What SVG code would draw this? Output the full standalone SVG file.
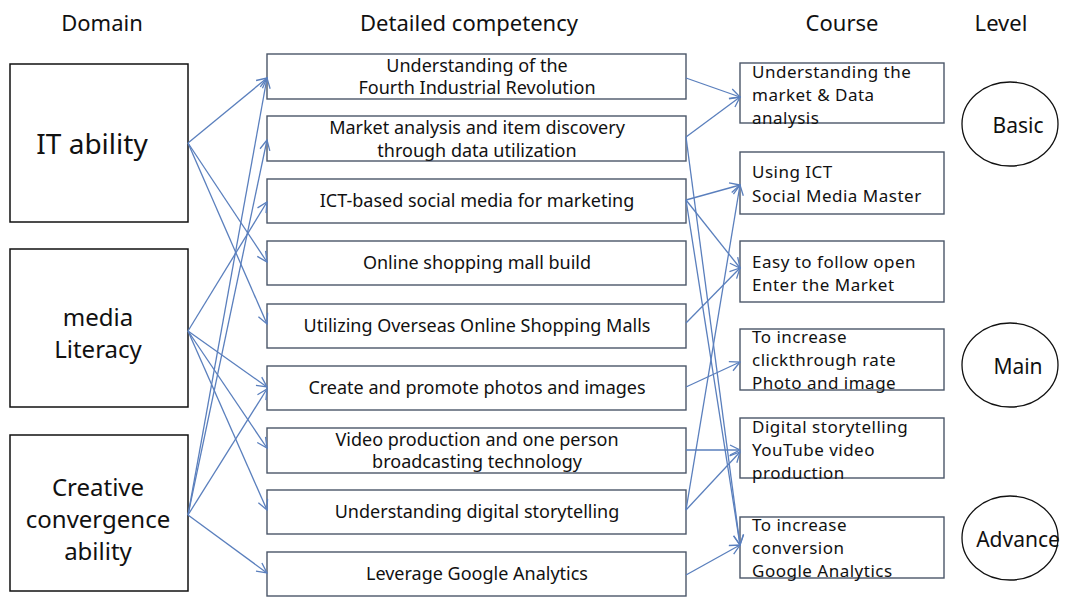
<svg xmlns="http://www.w3.org/2000/svg" width="1067" height="597" viewBox="0 0 1067 597">
<defs>
<marker id="arr" viewBox="0 0 12 12" refX="11" refY="6" markerWidth="12" markerHeight="12" markerUnits="userSpaceOnUse" orient="auto">
<path d="M1,1 L11,6 L1,11" fill="none" stroke="#5a7fbd" stroke-width="1.3"/>
</marker>
<style>
text{font-family:"Noto Sans","Open Sans","DejaVu Sans",sans-serif;fill:#111}
.hd{font-size:22px;text-anchor:middle}
.dom{fill:#fff;stroke:#111;stroke-width:1.5}
.dt{font-size:24px;text-anchor:middle}
.cb{fill:#fff;stroke:#4a5668;stroke-width:1.4}
.ct{font-size:18px;text-anchor:middle}
.rt{font-size:17px;letter-spacing:0.5px}
.lv{fill:#fff;stroke:#111;stroke-width:1.3}
.lt{font-size:21px;text-anchor:middle}
.cn line{stroke:#5a7fbd;stroke-width:1.3;marker-end:url(#arr)}
</style>
</defs>
<rect width="1067" height="597" fill="#fff"/>
<g id="headers">
<text class="hd" x="102" y="31">Domain</text>
<text class="hd" x="469" y="31">Detailed competency</text>
<text class="hd" x="842" y="31">Course</text>
<text class="hd" x="1001" y="31">Level</text>
</g>
<g id="domain-it"><rect class="dom" x="10" y="64" width="178" height="158"/><text class="dt" x="92" y="154" style="font-size:28px">IT ability</text></g>
<g id="domain-media"><rect class="dom" x="10" y="249" width="178" height="158"/><text class="dt" x="98" y="326">media</text><text class="dt" x="98" y="358">Literacy</text></g>
<g id="domain-creative"><rect class="dom" x="10" y="435" width="178" height="156"/><text class="dt" x="98" y="496">Creative</text><text class="dt" x="98" y="528">convergence</text><text class="dt" x="98" y="560">ability</text></g>

<g id="comp1"><rect class="cb" x="267" y="54" width="419" height="45"/><text class="ct" x="477" y="72">Understanding of the</text><text class="ct" x="477" y="94">Fourth Industrial Revolution</text></g>
<g id="comp2"><rect class="cb" x="267" y="116" width="419" height="45"/><text class="ct" x="477" y="134">Market analysis and item discovery</text><text class="ct" x="477" y="157">through data utilization</text></g>
<g id="comp3"><rect class="cb" x="267" y="179" width="419" height="44"/><text class="ct" x="477" y="207">ICT-based social media for marketing</text></g>
<g id="comp4"><rect class="cb" x="267" y="241" width="419" height="44"/><text class="ct" x="477" y="269">Online shopping mall build</text></g>
<g id="comp5"><rect class="cb" x="267" y="304" width="419" height="44"/><text class="ct" x="477" y="332">Utilizing Overseas Online Shopping Malls</text></g>
<g id="comp6"><rect class="cb" x="267" y="366" width="419" height="44"/><text class="ct" x="477" y="394">Create and promote photos and images</text></g>
<g id="comp7"><rect class="cb" x="267" y="428" width="419" height="45"/><text class="ct" x="477" y="446">Video production and one person</text><text class="ct" x="477" y="468">broadcasting technology</text></g>
<g id="comp8"><rect class="cb" x="267" y="490" width="419" height="44"/><text class="ct" x="477" y="518">Understanding digital storytelling</text></g>
<g id="comp9"><rect class="cb" x="267" y="552" width="419" height="44"/><text class="ct" x="477" y="580">Leverage Google Analytics</text></g>

<g id="course1"><rect class="cb" x="740" y="63" width="204" height="60"/><text class="rt" x="752" y="78">Understanding the</text><text class="rt" x="752" y="101">market &amp; Data</text><text class="rt" x="752" y="124">analysis</text></g>
<g id="course2"><rect class="cb" x="740" y="152" width="204" height="62"/><text class="rt" x="752" y="178">Using ICT</text><text class="rt" x="752" y="202">Social Media Master</text></g>
<g id="course3"><rect class="cb" x="740" y="241" width="204" height="61"/><text class="rt" x="752" y="268">Easy to follow open</text><text class="rt" x="752" y="291">Enter the Market</text></g>
<g id="course4"><rect class="cb" x="740" y="329" width="204" height="61"/><text class="rt" x="752" y="343">To increase</text><text class="rt" x="752" y="366">clickthrough rate</text><text class="rt" x="752" y="389">Photo and image</text></g>
<g id="course5"><rect class="cb" x="740" y="418" width="204" height="60"/><text class="rt" x="752" y="433">Digital storytelling</text><text class="rt" x="752" y="456">YouTube video</text><text class="rt" x="752" y="479">production</text></g>
<g id="course6"><rect class="cb" x="740" y="517" width="204" height="61"/><text class="rt" x="752" y="531">To increase</text><text class="rt" x="752" y="554">conversion</text><text class="rt" x="752" y="577">Google Analytics</text></g>

<g id="level-basic"><ellipse class="lv" cx="1010" cy="124" rx="48" ry="42"/><text class="lt" x="1018" y="133">Basic</text></g>
<g id="level-main"><ellipse class="lv" cx="1010" cy="365" rx="48" ry="42"/><text class="lt" x="1018" y="374">Main</text></g>
<g id="level-advance"><ellipse class="lv" cx="1010" cy="538" rx="48" ry="42"/><text class="lt" x="1018" y="547">Advance</text></g>

<g id="connectors" class="cn">
<line x1="188" y1="143" x2="267" y2="78"/>
<line x1="188" y1="143" x2="267" y2="262"/>
<line x1="188" y1="143" x2="267" y2="324"/>
<line x1="188" y1="331" x2="267" y2="202"/>
<line x1="188" y1="331" x2="267" y2="387"/>
<line x1="188" y1="331" x2="267" y2="448"/>
<line x1="188" y1="331" x2="267" y2="510"/>
<line x1="188" y1="515" x2="267" y2="78"/>
<line x1="188" y1="515" x2="267" y2="140"/>
<line x1="188" y1="515" x2="267" y2="389"/>
<line x1="188" y1="515" x2="267" y2="573"/>
<line x1="686" y1="78" x2="740" y2="97"/>
<line x1="686" y1="137" x2="740" y2="97"/>
<line x1="686" y1="137" x2="740" y2="545"/>
<line x1="686" y1="200" x2="740" y2="185"/>
<line x1="686" y1="200" x2="740" y2="268"/>
<line x1="686" y1="200" x2="740" y2="545"/>
<line x1="686" y1="323" x2="740" y2="268"/>
<line x1="686" y1="387" x2="740" y2="362"/>
<line x1="686" y1="450" x2="740" y2="450"/>
<line x1="686" y1="510" x2="740" y2="185"/>
<line x1="686" y1="510" x2="740" y2="452"/>
<line x1="686" y1="575" x2="740" y2="545"/>
</g>
</svg>
